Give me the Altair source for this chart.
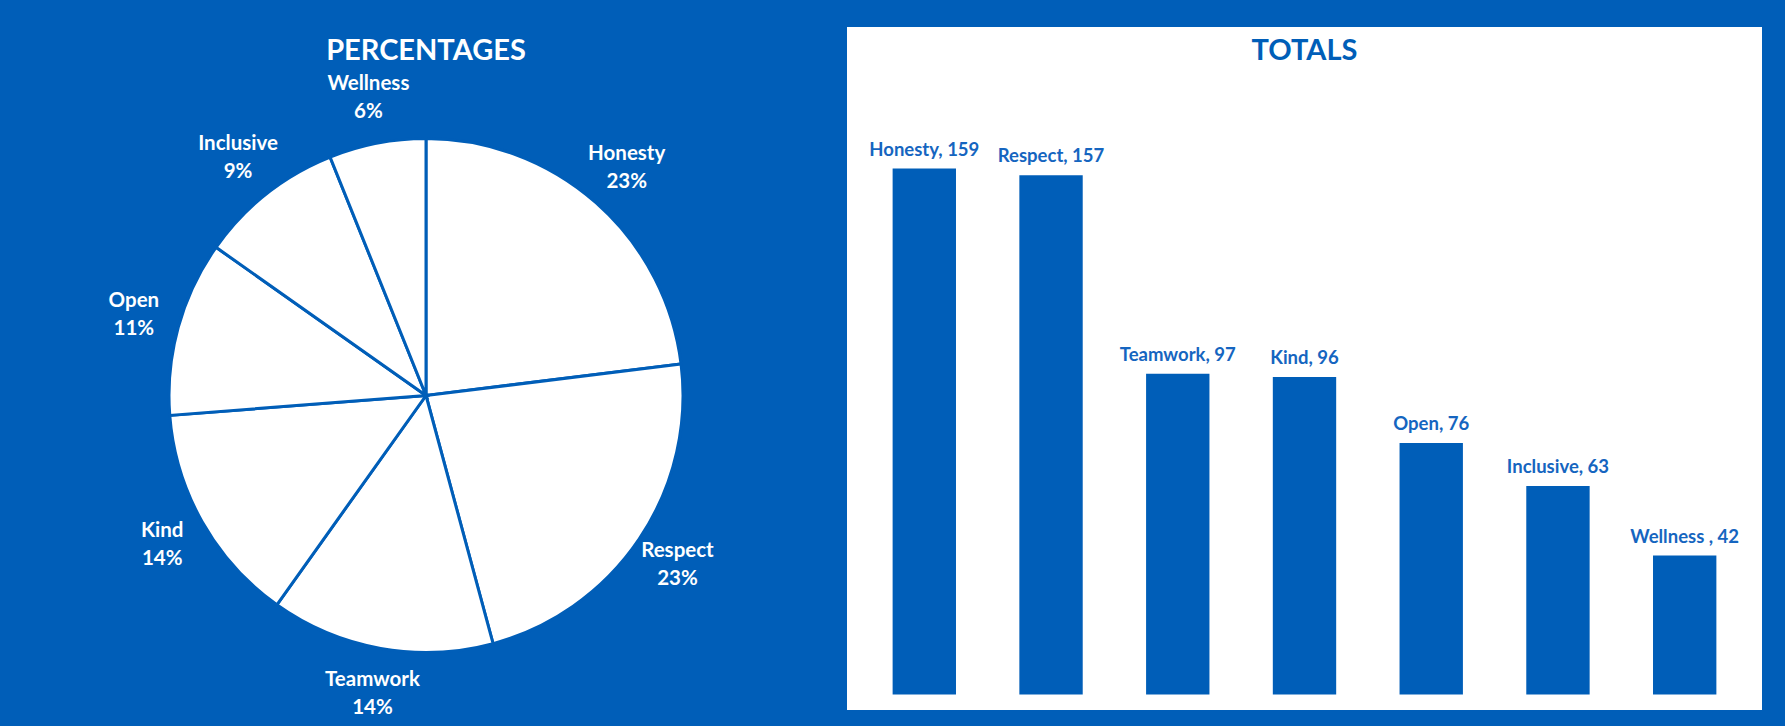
import altair as alt
import pandas as pd

# ---- data ----
names = ["Honesty", "Respect", "Teamwork", "Kind", "Open", "Inclusive", "Wellness"]
bar_names = ["Honesty", "Respect", "Teamwork", "Kind", "Open", "Inclusive", "Wellness "]
totals = [159, 157, 97, 96, 76, 63, 42]
titles = ["PERCENTAGES", "TOTALS"]

BLUE = "#005EB8"
LABEL_BLUE = "#1565C0"
FONT = "Lato"

grand = sum(totals)
df = pd.DataFrame({
    "idx": list(range(len(names))),
    "name": names,
    "total": totals,
})
df["pct_label"] = [f"{n}\n{round(v * 100 / grand)}%" for n, v in zip(names, totals)]
df["bar_label"] = [f"{n}, {v}" for n, v in zip(bar_names, totals)]

PIE_W, BAR_W, H = 832, 915, 683

# ---- pie (percentages) ----
base_pie = alt.Chart(df).encode(
    theta=alt.Theta("total:Q", stack=True),
    order=alt.Order("idx:Q"),
    detail="name:N",
)
arcs = base_pie.mark_arc(
    outerRadius=257, fill="white", stroke=BLUE, strokeWidth=3, yOffset=27
)
pie_text = base_pie.mark_text(
    radius=303, yOffset=27, dy=-14, font=FONT, fontWeight="bold", fontSize=20.5,
    color="white", lineBreak="\n", lineHeight=28, baseline="middle",
).encode(text="pct_label:N")
pie_title = alt.Chart(pd.DataFrame({"t": [titles[0]]})).mark_text(
    font=FONT, fontSize=29, fontWeight="bold", color="white", baseline="middle",
).encode(text="t:N", x=alt.value(PIE_W / 2), y=alt.value(24))

pie = alt.layer(arcs, pie_text, pie_title).properties(width=PIE_W, height=H)

# ---- bars (totals) ----
bar_base = alt.Chart(df).encode(
    x=alt.X("name:N", sort=names, axis=None,
            scale=alt.Scale(paddingInner=0.5, paddingOuter=0.36)),
    y=alt.Y("total:Q", axis=None,
            scale=alt.Scale(domain=[-4.69, 201.8], zero=False, nice=False)),
)
bars = bar_base.mark_bar(color=BLUE).encode(y2=alt.datum(0))
bar_text = bar_base.mark_text(
    baseline="alphabetic", dy=-13, font=FONT, fontWeight="bold", fontSize=18.5,
    color=LABEL_BLUE,
).encode(text="bar_label:N")
bar_title = alt.Chart(pd.DataFrame({"t": [titles[1]]})).mark_text(
    font=FONT, fontSize=29, fontWeight="bold", color=BLUE, baseline="middle",
).encode(text="t:N", x=alt.value(BAR_W / 2), y=alt.value(24))

barchart = alt.layer(bars, bar_text, bar_title).properties(
    width=BAR_W, height=H,
    view=alt.ViewBackground(fill="white", stroke=None),
)

chart = alt.hconcat(pie, barchart, spacing=5).properties(
    background=BLUE,
    padding={"left": 10, "top": 27, "right": 23, "bottom": 16},
).configure_view(stroke=None)

chart.save("out.html", embed_options={"renderer": "svg", "actions": False})
